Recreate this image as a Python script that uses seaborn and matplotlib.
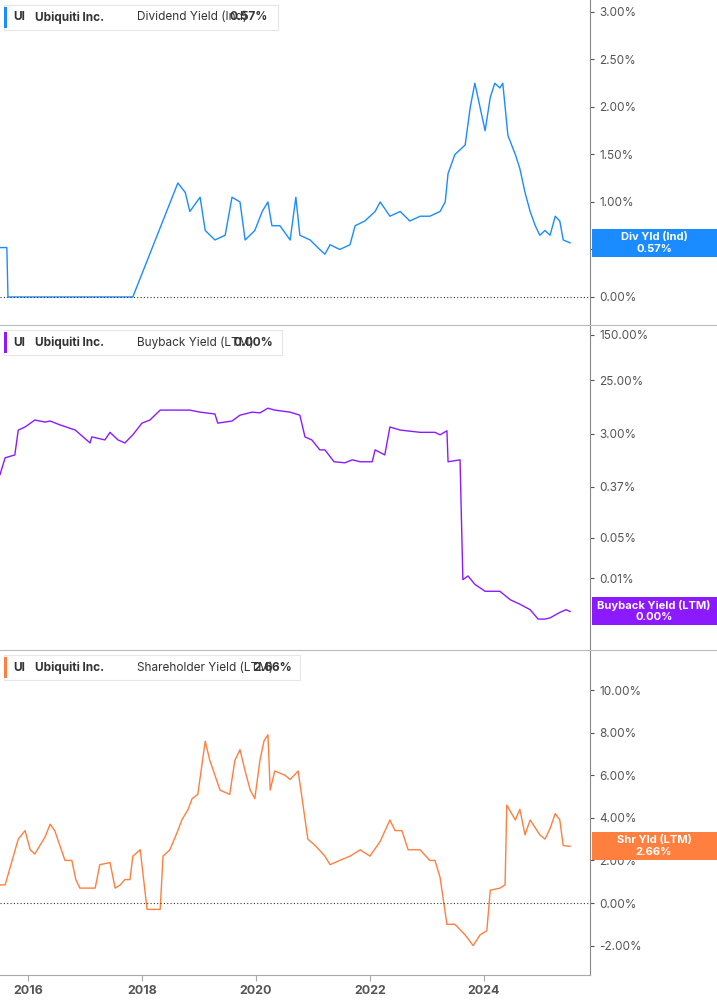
import matplotlib
matplotlib.use("Agg")
import matplotlib.pyplot as plt
import seaborn as sns
import pandas as pd
from matplotlib.patches import Rectangle

plt.rcParams["font.family"] = "Inter"

div_year = [2015.51, 2015.63, 2015.65, 2017.84, 2018.63, 2018.76, 2018.84, 2019.02, 2019.11, 2019.28, 2019.46,
            2019.58, 2019.72, 2019.81, 2019.98, 2020.11, 2020.21, 2020.28, 2020.42, 2020.60, 2020.70, 2020.77,
            2020.95, 2021.12, 2021.21, 2021.30, 2021.47, 2021.65, 2021.74, 2021.91, 2022.09, 2022.18, 2022.35,
            2022.53, 2022.70, 2022.88, 2023.05, 2023.23, 2023.32, 2023.37, 2023.49, 2023.67, 2023.76, 2023.84,
            2023.93, 2024.02, 2024.11, 2024.19, 2024.28, 2024.33, 2024.42, 2024.55, 2024.63, 2024.72, 2024.81,
            2024.90, 2024.98, 2025.07, 2025.16, 2025.25, 2025.33, 2025.39, 2025.51]
div_val = [0.52, 0.52, 0.0, 0.0, 1.2, 1.1, 0.9, 1.05, 0.7, 0.6, 0.65,
           1.05, 1.0, 0.6, 0.7, 0.9, 1.0, 0.75, 0.75, 0.6, 1.05, 0.65,
           0.6, 0.5, 0.45, 0.55, 0.5, 0.55, 0.75, 0.8, 0.9, 1.0, 0.85,
           0.9, 0.8, 0.85, 0.85, 0.9, 1.0, 1.3, 1.5, 1.6, 2.0, 2.25,
           2.0, 1.75, 2.1, 2.25, 2.2, 2.25, 1.7, 1.5, 1.35, 1.1, 0.9,
           0.75, 0.65, 0.7, 0.65, 0.85, 0.8, 0.6, 0.57]

bb_year = [2015.51, 2015.60, 2015.77, 2015.83, 2015.95, 2016.12, 2016.30, 2016.39, 2016.56, 2016.83, 2017.09,
           2017.12, 2017.35, 2017.44, 2017.58, 2017.70, 2017.84, 2018.00, 2018.14, 2018.32, 2018.67, 2018.84,
           2019.02, 2019.28, 2019.33, 2019.58, 2019.72, 2019.93, 2020.07, 2020.21, 2020.33, 2020.60, 2020.77,
           2020.86, 2020.98, 2021.12, 2021.21, 2021.37, 2021.56, 2021.69, 2021.83, 2022.04, 2022.09, 2022.26,
           2022.35, 2022.53, 2022.88, 2023.14, 2023.23, 2023.35, 2023.37, 2023.58, 2023.63, 2023.72, 2023.84,
           2024.02, 2024.28, 2024.46, 2024.63, 2024.81, 2024.95, 2025.07, 2025.16, 2025.33, 2025.44, 2025.51]
bb_val = [0.6, 1.17, 1.31, 3.5, 3.95, 5.2, 4.8, 5.0, 4.3, 3.5, 2.1,
          2.67, 2.37, 3.2, 2.37, 2.1, 2.9, 4.6, 5.2, 7.7, 7.7, 7.7,
          7.1, 6.6, 4.6, 5.0, 6.3, 7.1, 6.9, 8.3, 7.7, 7.1, 6.3,
          2.67, 2.37, 1.6, 1.6, 1.0, 0.96, 1.08, 1.0, 1.0, 1.6, 1.31,
          3.95, 3.5, 3.2, 3.2, 2.9, 3.4, 1.0, 1.08, 0.0095, 0.011, 0.0079,
          0.006, 0.006, 0.0043, 0.0036, 0.0029, 0.002, 0.002, 0.0021, 0.0026, 0.0029, 0.0027]

sh_year = [2015.51, 2015.60, 2015.83, 2015.95, 2016.04, 2016.12, 2016.30, 2016.39, 2016.47, 2016.65, 2016.77,
           2016.84, 2016.91, 2017.18, 2017.26, 2017.44, 2017.53, 2017.62, 2017.70, 2017.79, 2017.84, 2017.97,
           2018.09, 2018.32, 2018.37, 2018.49, 2018.63, 2018.70, 2018.81, 2018.88, 2018.98, 2019.11, 2019.19,
           2019.28, 2019.37, 2019.54, 2019.63, 2019.72, 2019.81, 2019.90, 2019.98, 2020.07, 2020.14, 2020.21,
           2020.25, 2020.33, 2020.51, 2020.60, 2020.74, 2020.81, 2020.91, 2021.04, 2021.21, 2021.30, 2021.47,
           2021.65, 2021.83, 2022.00, 2022.18, 2022.35, 2022.44, 2022.56, 2022.67, 2022.88, 2023.05, 2023.14,
           2023.23, 2023.35, 2023.49, 2023.67, 2023.81, 2023.93, 2024.05, 2024.11, 2024.28, 2024.37, 2024.40,
           2024.55, 2024.63, 2024.72, 2024.81, 2024.98, 2025.07, 2025.16, 2025.25, 2025.33, 2025.39, 2025.51]
sh_val = [0.85, 0.85, 3.0, 3.4, 2.5, 2.3, 3.1, 3.7, 3.4, 2.0, 2.0,
          1.1, 0.7, 0.7, 1.8, 1.9, 0.7, 0.85, 1.1, 1.1, 2.2, 2.5,
          -0.3, -0.3, 2.2, 2.5, 3.4, 3.9, 4.4, 4.9, 5.1, 7.6, 6.7,
          6.0, 5.3, 5.1, 6.7, 7.2, 6.2, 5.3, 4.9, 6.7, 7.6, 7.9,
          5.3, 6.2, 6.0, 5.8, 6.2, 4.9, 3.0, 2.7, 2.2, 1.8, 2.0,
          2.2, 2.5, 2.2, 2.9, 3.9, 3.4, 3.4, 2.5, 2.5, 2.0, 2.0,
          1.2, -1.0, -1.0, -1.5, -2.0, -1.5, -1.3, 0.6, 0.7, 0.85, 4.6,
          3.9, 4.4, 3.2, 3.9, 3.2, 3.0, 3.5, 4.2, 3.9, 2.7, 2.66]

year_ticks = [2016, 2018, 2020, 2022, 2024]
div_ticks = [0, 0.5, 1.0, 1.5, 2.0, 2.5, 3.0]
bb_ticks = [0.01, 0.05, 0.37, 3.0, 25.0, 150.0]
sh_ticks = [-2, 0, 2, 4, 6, 8, 10]

W, H = 717, 1005
fig = plt.figure(figsize=(W / 100, H / 100), dpi=100)
ax_w = 590 / W
gray = "#555555"

def make_ax(top_px, bot_px):
    return fig.add_axes([0, 1 - bot_px / H, ax_w, (bot_px - top_px) / H])

ax1 = make_ax(0, 325)
ax2 = make_ax(325, 650)
ax3 = make_ax(650, 975)

panels = [
    (ax1, div_year, div_val, "#1a8cff", "Dividend Yield (Ind)", "0.57%", "Div Yld (Ind)", 0.57, 230),
    (ax2, bb_year, bb_val, "#8c1aff", "Buyback Yield (LTM)", "0.00%", "Buyback Yield (LTM)", 0.0027, 234),
    (ax3, sh_year, sh_val, "#ff7f3f", "Shareholder Yield (LTM)", "2.66%", "Shr Yld (LTM)", 2.66, 253),
]

for ax, xs, ys, col, name, last, tag, lastv, _ in panels:
    df = pd.DataFrame({"year": xs, "val": ys})
    sns.lineplot(data=df, x="year", y="val", ax=ax, color=col, linewidth=1.0)
    ax.set_xlim(2015.51, 2025.86)
    ax.set_xlabel("")
    ax.set_ylabel("")
    ax.yaxis.tick_right()
    for s in ["top", "left", "bottom"]:
        ax.spines[s].set_visible(False)
    ax.spines["right"].set_color("#888888")
    ax.tick_params(axis="y", colors=gray, labelsize=8.5, length=3, direction="out")
    ax.set_facecolor("none")

ax1.set_ylim(-0.295, 3.126)
ax1.set_yticks(div_ticks)
ax1.set_yticklabels([f"{t:.2f}%" for t in div_ticks])
ax1.axhline(0, color="#333333", linestyle=(0, (1, 2)), linewidth=0.8)

ax2.set_yscale("log")
ax2.set_ylim(0.00059, 222)
ax2.set_yticks(bb_ticks)
ax2.set_yticklabels([f"{t:.2f}%" for t in bb_ticks])
ax2.minorticks_off()

ax3.set_ylim(-3.38, 11.88)
ax3.set_yticks(sh_ticks)
ax3.set_yticklabels([f"{t:.2f}%" for t in sh_ticks])
ax3.axhline(0, color="#333333", linestyle=(0, (1, 2)), linewidth=0.8)

for ax in (ax1, ax2):
    ax.set_xticks([])
ax3.set_xticks(year_ticks)
ax3.set_xticklabels([str(y) for y in year_ticks], fontweight="bold", color=gray, fontsize=9)
ax3.tick_params(axis="x", length=4, colors="#aaaaaa", labelcolor=gray)
ax3.spines["bottom"].set_visible(True)
ax3.spines["bottom"].set_color("#aaaaaa")

for ypx in (325, 650):
    fig.add_artist(plt.Line2D([0, 1], [1 - ypx / H, 1 - ypx / H], color="#bbbbbb", linewidth=0.8))

leg_w = {0: 274, 1: 278, 2: 296}
for i, (ax, xs, ys, col, name, last, tag, lastv, valx) in enumerate(panels):
    top = [0, 325, 650][i]
    y0 = top + 5
    fig.add_artist(Rectangle((4 / W, 1 - (y0 + 25) / H), leg_w[i] / W, 25 / H, facecolor="white",
                             edgecolor="#e6e6e6", linewidth=0.8, transform=fig.transFigure))
    fig.add_artist(Rectangle((4 / W, 1 - (y0 + 23) / H), 3 / W, 21 / H, facecolor=col,
                             edgecolor="none", transform=fig.transFigure))
    yt = 1 - (y0 + 12.5) / H
    fig.text(13 / W, yt, "UI", fontsize=8.5, fontweight="bold", color="#333333", va="center")
    fig.text(35 / W, yt, "Ubiquiti Inc.", fontsize=8.5, fontweight="bold", color="#333333", va="center")
    fig.text(137 / W, yt, name, fontsize=8.5, color="#333333", va="center")
    fig.text(valx / W, yt, last, fontsize=8.5, fontweight="bold", color="#333333", va="center")
    ypix = ax.transData.transform((2025.5, lastv))[1]
    yfrac = ypix / H
    fig.add_artist(Rectangle((592 / W, yfrac - 14 / H), (W - 592) / W, 28 / H, facecolor=col,
                             edgecolor="none", transform=fig.transFigure))
    fig.text(654 / W, yfrac + 6 / H, tag, fontsize=8, fontweight="bold", color="white", ha="center", va="center")
    fig.text(654 / W, yfrac - 6 / H, last, fontsize=8, fontweight="bold", color="white", ha="center", va="center")

fig.savefig("out.png", dpi=100)
